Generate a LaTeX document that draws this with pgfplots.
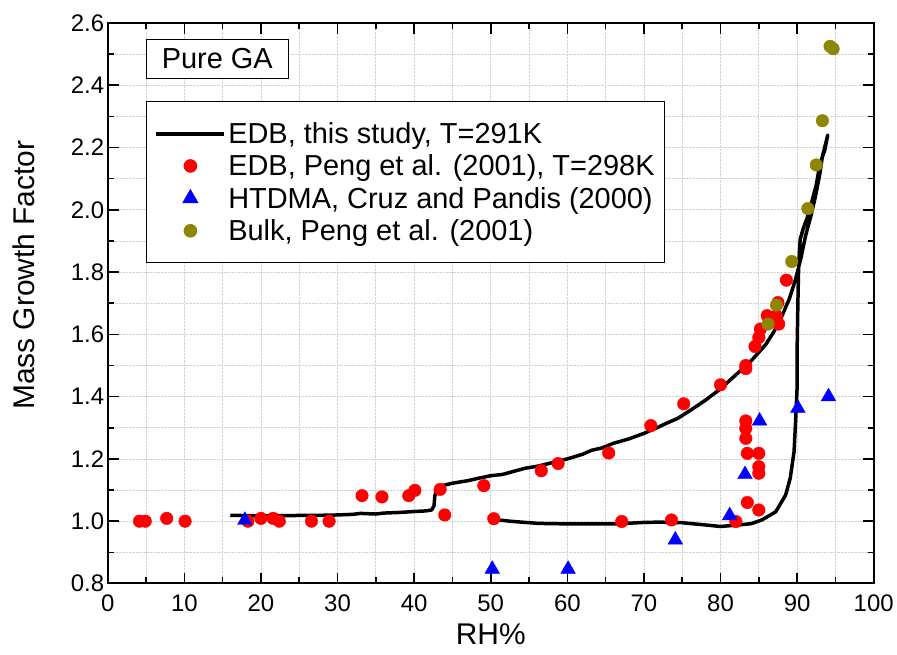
\documentclass[border=0pt]{standalone}
\usepackage{pgfplots}
\pgfplotsset{compat=1.18}
\usepackage{fontspec}
\setmainfont{Liberation Sans}

\begin{document}
\begin{tikzpicture}
\begin{axis}[
    width=768pt, height=562pt, scale only axis,
    xmin=0, xmax=100, ymin=0.8, ymax=2.6,
    xtick distance=10, ytick distance=0.2,
    minor x tick num=1, minor y tick num=1,
    tick align=inside,
    major tick length=11pt, minor tick length=6pt,
    every tick/.style={black, line width=1.6pt},
    axis line style={line width=2pt},
    grid=both,
    major grid style={gray!35, densely dotted, line width=0.8pt},
    minor grid style={gray!35, densely dotted, line width=0.8pt},
    /pgf/number format/assume math mode=true,
    yticklabel style={/pgf/number format/.cd, fixed, fixed zerofill, precision=1},
    tick label style={font=\fontsize{24}{28}\selectfont},
    xticklabel style={yshift=-8pt},
    xlabel={RH\%},
    ylabel={Mass Growth Factor},
    xlabel style={at={([yshift=-37pt]rel axis cs:0.5,0)}, anchor=north,
        font=\fontsize{30}{35}\selectfont},
    ylabel style={at={([xshift=-70pt]rel axis cs:0,0.55)}, rotate=0, anchor=south,
        font=\fontsize{30}{35}\selectfont},
    legend style={
        at={(0.05,0.861)}, anchor=north west,
        draw=black, line width=1pt,
        font=\fontsize{29}{35}\selectfont,
        inner xsep=8pt, inner ysep=19pt,
        row sep=6pt,
        cells={anchor=west}
    },
    legend image code/.code={
        \draw[mark repeat=2, mark phase=2, #1] plot coordinates {(0pt,0pt) (34pt,0pt) (68pt,0pt)};
    },
]

% EDB, this study: ascending then descending branch
\addplot[black, line width=3.5pt, line join=round,
         legend image post style={line width=4pt}] coordinates {
    (16.0,1.019) (18,1.018) (20,1.017) (22,1.018) (24,1.018) (26,1.019) (28,1.019)
    (30,1.020) (32,1.022) (33,1.025) (34,1.024) (35,1.023) (36,1.026) (38,1.028)
    (40,1.031) (41.5,1.033) (42.3,1.036) (42.6,1.05) (42.7,1.08) (42.9,1.103)
    (43.5,1.113) (45,1.122) (47,1.130) (48.4,1.138) (50,1.146) (51.5,1.150)
    (53,1.160) (54.5,1.170) (56.2,1.177) (58,1.188) (60,1.200) (62,1.215)
    (63.2,1.228) (64.5,1.235) (66,1.250) (68,1.264) (70,1.282) (71.5,1.298)
    (73,1.315) (74.4,1.330) (76,1.355) (78,1.388) (80,1.425) (82,1.470)
    (84,1.515) (85.9,1.567) (87,1.610) (88,1.658) (89,1.715) (89.8,1.777)
    (90.5,1.845) (91.1,1.916) (91.8,1.98) (92.4,2.044) (93.0,2.12) (93.3,2.172)
    (93.7,2.21) (94.0,2.24)
    (93.6,2.19) (93.0,2.15) (92.5,2.08) (92.0,2.033) (91.4,1.98) (90.8,1.94)
    (90.4,1.905) (90.2,1.82) (90.1,1.70) (90.0,1.55) (90.0,1.43) (89.8,1.32)
    (89.6,1.223) (89.1,1.138) (88.5,1.084) (87.2,1.03) (85.4,1.004) (84,0.992)
    (82.4,0.988) (80,0.983) (78,0.988) (75,0.995) (72,0.997) (70,0.996)
    (66,0.991) (62,0.991) (58,0.992) (56.2,0.993) (54,0.997) (52.5,1.0) (51,1.004)
};
\addlegendentry{EDB, this study, T=291K}

\addplot[only marks, mark=*, mark size=6.3pt, color=red] coordinates {
    (4.15,1.0) (4.9,1.0) (7.7,1.009) (10.1,1.0) (18.3,1.0) (20.0,1.009)
    (21.6,1.009) (22.4,1.0) (26.6,1.0) (28.9,1.0) (33.2,1.082) (35.8,1.078)
    (39.3,1.082) (40.1,1.099) (43.4,1.102) (44.0,1.020) (49.1,1.114) (50.4,1.008)
    (56.6,1.162) (58.8,1.185) (65.4,1.219) (67.1,0.999) (70.9,1.307) (73.6,1.004)
    (75.2,1.377) (80.0,1.438) (82.0,0.999) (83.3,1.322) (83.3,1.298) (83.3,1.266)
    (83.5,1.218) (85.0,1.218) (85.0,1.175) (85.0,1.154) (83.5,1.060) (85.0,1.036)
    (83.3,1.49) (83.3,1.50) (84.5,1.561) (85.0,1.590) (85.2,1.617) (86.1,1.660)
    (87.3,1.660) (87.6,1.633) (87.5,1.702) (88.6,1.774)
};
\addlegendentry{EDB, Peng et al. (2001), T=298K}

\addplot[only marks, mark=triangle*, mark size=8.5pt, color=blue] coordinates {
    (17.9,1.003) (50.2,0.846) (60.1,0.846) (74.1,0.94) (81.2,1.018)
    (83.2,1.150) (85.1,1.322) (90.1,1.363) (94.1,1.400)
};
\addlegendentry{HTDMA, Cruz and Pandis (2000)}

\addplot[only marks, mark=*, mark size=6.3pt, color=olive] coordinates {
    (86.2,1.633) (87.3,1.694) (89.3,1.834) (91.4,2.004) (92.5,2.144)
    (93.3,2.286) (94.3,2.525) (94.7,2.517)
};
\addlegendentry{Bulk, Peng et al. (2001)}

\node[draw, line width=1pt, fill=white, anchor=north west,
      minimum width=142pt, minimum height=40pt,
      font=\fontsize{29}{34}\selectfont]
    at (rel axis cs:0.05,0.9722) {Pure GA};
\end{axis}
\path ([shift={(-108pt,-71pt)}]current axis.south west)
    rectangle ([shift={(21pt,23pt)}]current axis.north east);
\end{tikzpicture}
\end{document}
